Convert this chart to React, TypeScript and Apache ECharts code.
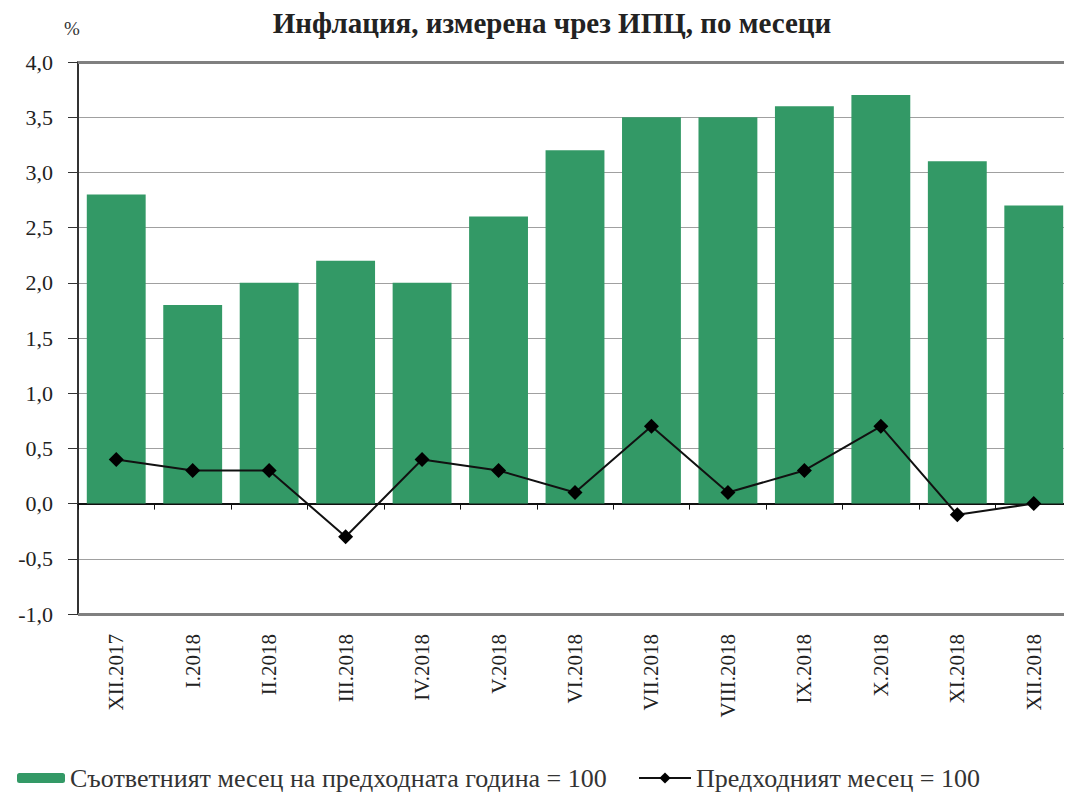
import React, { useEffect, useRef } from "react";
import * as echarts from "echarts";

const categories = ["XII.2017", "I.2018", "II.2018", "III.2018", "IV.2018", "V.2018", "VI.2018", "VII.2018", "VIII.2018", "IX.2018", "X.2018", "XI.2018", "XII.2018"];
const yearOnYear = [2.8, 1.8, 2.0, 2.2, 2.0, 2.6, 3.2, 3.5, 3.5, 3.6, 3.7, 3.1, 2.7];
const monthOnMonth = [0.4, 0.3, 0.3, -0.3, 0.4, 0.3, 0.1, 0.7, 0.1, 0.3, 0.7, -0.1, 0.0];
const seriesNames = ["Съответният месец на предходната година = 100", "Предходният месец = 100"];
const titleText = "Инфлация, измерена чрез ИПЦ, по месеци";

const FONT = "Liberation Serif";

export default function App() {
  const ref = useRef<HTMLDivElement>(null);
  useEffect(() => {
    const chart = echarts.init(ref.current!, null, { renderer: "svg" });
    chart.setOption({
      animation: false,
      backgroundColor: "#fff",
      textStyle: { fontFamily: FONT },
      graphic: [
        {
          type: "text",
          x: 544,
          y: 0,
          style: {
            text: titleText,
            font: `bold 29px "${FONT}"`,
            fill: "#222",
            align: "center",
            verticalAlign: "top",
          },
        },
        { type: "text", x: 56, y: 11, style: { text: "%", font: `19px "${FONT}"`, fill: "#333" } },
      ],
      legend: [
        {
          data: [seriesNames[0]],
          left: 4,
          top: 752,
          itemWidth: 48,
          itemHeight: 10,
          textStyle: { fontFamily: FONT, fontSize: 26, color: "#333" },
        },
        {
          data: [seriesNames[1]],
          left: 625,
          top: 752,
          itemWidth: 52,
          itemHeight: 14,
          textStyle: { fontFamily: FONT, fontSize: 26, color: "#333" },
        },
      ],
      grid: { left: 70, right: 0, top: 54, bottom: 182, containLabel: false },
      xAxis: [
        {
          type: "category",
          data: categories,
          axisLine: { show: false, onZero: false },
          axisTick: { show: false },
          axisLabel: {
            rotate: 90,
            interval: 0,
            margin: 20,
            fontFamily: FONT,
            fontSize: 21,
            color: "#222",
          },
        },
        {
          type: "category",
          data: categories,
          position: "bottom",
          axisLine: { show: true, onZero: true, lineStyle: { color: "#111", width: 2 } },
          axisTick: { show: true, inside: false, length: 6, lineStyle: { color: "#111" } },
          axisLabel: { show: false },
        },
      ],
      yAxis: {
        type: "value",
        min: -1,
        max: 4,
        interval: 0.5,
        axisLine: { show: true, lineStyle: { color: "#333", width: 2 } },
        axisTick: { show: true, length: 10, lineStyle: { color: "#333" } },
        axisLabel: {
          fontFamily: FONT,
          fontSize: 22,
          color: "#222",
          margin: 25,
          formatter: (v: number) => v.toFixed(1).replace(".", ","),
        },
        splitLine: { show: true, lineStyle: { color: "#a0a0a0", width: 1 } },
      },
      series: [
        {
          name: seriesNames[0],
          type: "bar",
          data: yearOnYear,
          xAxisIndex: 0,
          barCategoryGap: "23%",
          itemStyle: { color: "#339966" },
          markLine: {
            silent: true,
            symbol: "none",
            label: { show: false },
            lineStyle: { color: "#808080", width: 3, type: "solid" },
            data: [{ yAxis: 4 }, { yAxis: -1 }],
          },
        },
        {
          name: seriesNames[1],
          type: "line",
          data: monthOnMonth,
          xAxisIndex: 0,
          symbol: "diamond",
          symbolSize: 15,
          itemStyle: { color: "#000" },
          lineStyle: { color: "#111", width: 2 },
          z: 5,
        },
      ],
    });
    return () => chart.dispose();
  }, []);
  return <div ref={ref} style={{ width: 1064, height: 788 }} />;
}
